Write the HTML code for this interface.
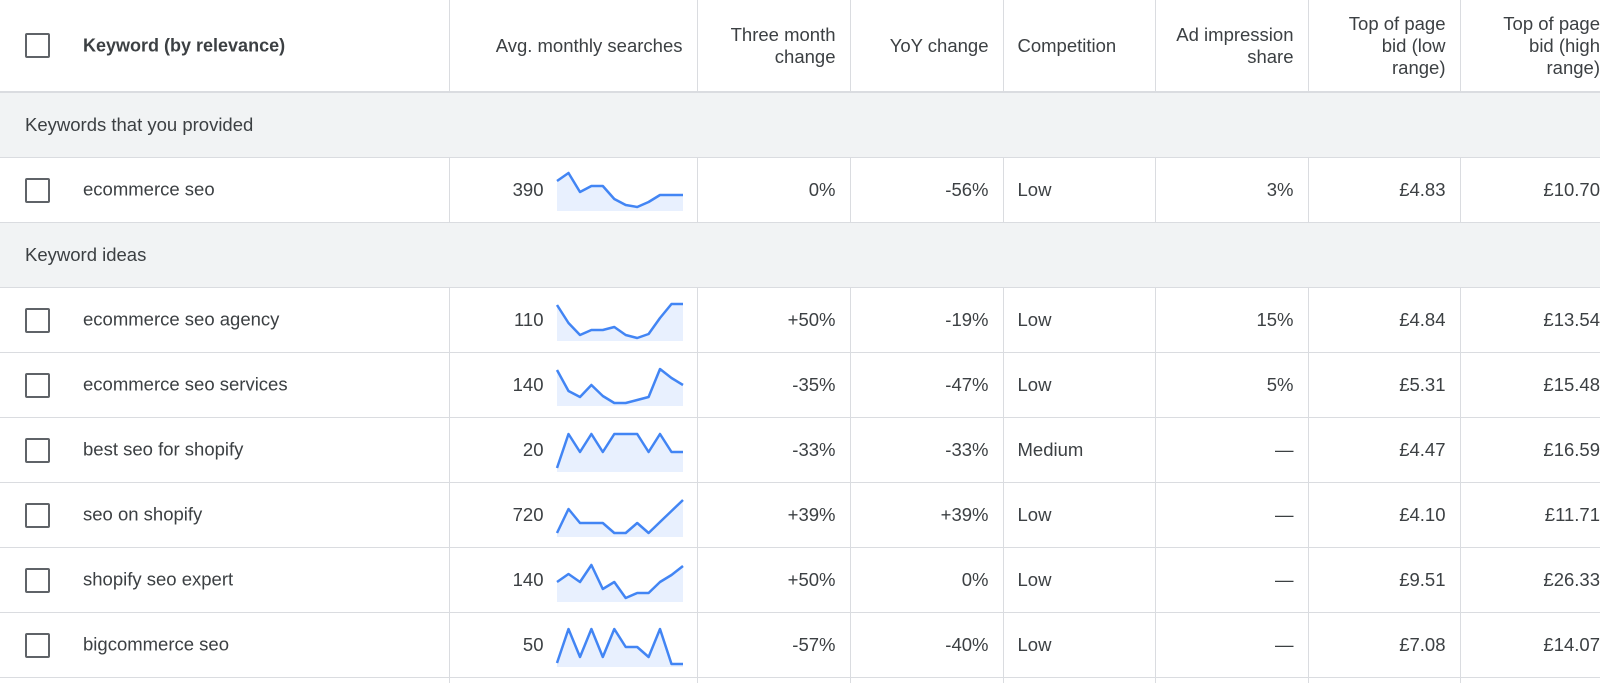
<!DOCTYPE html>
<html><head><meta charset="utf-8"><style>
html,body{margin:0;width:1600px;height:684px;overflow:hidden}
body{background:#fff;font-family:"Liberation Sans",Arial,sans-serif;color:#3c4043}
#w{position:relative;width:1600px;height:684px;overflow:hidden}
table{border-collapse:collapse;table-layout:fixed;width:1600px;position:absolute;left:0;top:0}
td,th{padding:0 14px;font-size:18.5px;font-weight:normal;white-space:nowrap;border-left:1px solid #dadce0;text-align:right;overflow:visible}
th{height:91px;line-height:22px;border-bottom:2px solid #dadce0}
tr.r td{height:64px;border-bottom:1px solid #dadce0}
tr.e td{height:5px;padding:0;border-bottom:none}
tr.g td{height:64px;background:#f1f3f4;border-bottom:1px solid #dadce0;text-align:left;padding-left:25px;border-left:none}
td.k,th.k{text-align:left;border-left:none;padding-left:25px}
.cb{display:inline-block;width:21px;height:21px;border:2px solid #5f6368;border-radius:2px;vertical-align:middle;margin-right:33px}
th.k span{font-weight:bold;font-size:18px;vertical-align:middle}
th.c{text-align:left}
td.c{text-align:left}
td.a{padding-right:153px}
th.l,td.l{padding-right:0}
svg{position:absolute;left:0;top:0}
</style></head><body><div id="w">
<table>
<colgroup><col style="width:449px"><col style="width:248px"><col style="width:153px"><col style="width:153px"><col style="width:152px"><col style="width:153px"><col style="width:152px"><col style="width:140px"></colgroup>
<tr><th class="k"><span class="cb"></span><span>Keyword (by relevance)</span></th><th>Avg. monthly searches</th><th>Three month<br>change</th><th>YoY change</th><th class="c">Competition</th><th>Ad impression<br>share</th><th>Top of page<br>bid (low<br>range)</th><th class="l">Top of page<br>bid (high<br>range)</th></tr>
<tr class="g"><td colspan="8">Keywords that you provided</td></tr>
<tr class="r"><td class="k"><span class="cb"></span>ecommerce seo</td><td class="a">390</td><td>0%</td><td>-56%</td><td class="c">Low</td><td>3%</td><td>£4.83</td><td class="l">£10.70</td></tr>
<tr class="g"><td colspan="8">Keyword ideas</td></tr>
<tr class="r"><td class="k"><span class="cb"></span>ecommerce seo agency</td><td class="a">110</td><td>+50%</td><td>-19%</td><td class="c">Low</td><td>15%</td><td>£4.84</td><td class="l">£13.54</td></tr>
<tr class="r"><td class="k"><span class="cb"></span>ecommerce seo services</td><td class="a">140</td><td>-35%</td><td>-47%</td><td class="c">Low</td><td>5%</td><td>£5.31</td><td class="l">£15.48</td></tr>
<tr class="r"><td class="k"><span class="cb"></span>best seo for shopify</td><td class="a">20</td><td>-33%</td><td>-33%</td><td class="c">Medium</td><td>—</td><td>£4.47</td><td class="l">£16.59</td></tr>
<tr class="r"><td class="k"><span class="cb"></span>seo on shopify</td><td class="a">720</td><td>+39%</td><td>+39%</td><td class="c">Low</td><td>—</td><td>£4.10</td><td class="l">£11.71</td></tr>
<tr class="r"><td class="k"><span class="cb"></span>shopify seo expert</td><td class="a">140</td><td>+50%</td><td>0%</td><td class="c">Low</td><td>—</td><td>£9.51</td><td class="l">£26.33</td></tr>
<tr class="r"><td class="k"><span class="cb"></span>bigcommerce seo</td><td class="a">50</td><td>-57%</td><td>-40%</td><td class="c">Low</td><td>—</td><td>£7.08</td><td class="l">£14.07</td></tr>
<tr class="e"><td class="k"></td><td></td><td></td><td></td><td></td><td></td><td></td><td></td></tr>
</table>
<svg width="1600" height="684" viewBox="0 0 1600 684">
<g fill="#e8f0fe" stroke="none">
<polygon points="557,181 568.5,173 580,192 591.4,186 602.8,186 614.3,199 625.7,205 637.2,207 648.6,202 660,195 671.5,195 683,195 683,211 557,211"/>
<polygon points="557,305 568.5,323 580,335 591.4,330 602.8,330 614.3,327 625.7,335 637.2,338 648.6,334 660,318 671.5,304 683,304 683,341 557,341"/>
<polygon points="557,370 568.5,391 580,397 591.4,385 602.8,396 614.3,403 625.7,403 637.2,400 648.6,397 660,369 671.5,378 683,385 683,406 557,406"/>
<polygon points="557,468 568.5,434 580,452 591.4,434 602.8,452 614.3,434 625.7,434 637.2,434 648.6,452 660,434 671.5,452 683,452 683,472 557,472"/>
<polygon points="557,533 568.5,509 580,523 591.4,523 602.8,523 614.3,533 625.7,533 637.2,523 648.6,533 660,522 671.5,511 683,500 683,537 557,537"/>
<polygon points="557,582 568.5,574 580,582 591.4,565 602.8,589 614.3,582 625.7,598 637.2,593 648.6,593 660,582 671.5,575 683,566 683,602 557,602"/>
<polygon points="557,663 568.5,629 580,657 591.4,629 602.8,657 614.3,629 625.7,647 637.2,647 648.6,657 660,629 671.5,664 683,664 683,667 557,667"/>
</g>
<g fill="none" stroke="#4285f4" stroke-width="2.5" stroke-linejoin="round">
<polyline points="557,181 568.5,173 580,192 591.4,186 602.8,186 614.3,199 625.7,205 637.2,207 648.6,202 660,195 671.5,195 683,195"/>
<polyline points="557,305 568.5,323 580,335 591.4,330 602.8,330 614.3,327 625.7,335 637.2,338 648.6,334 660,318 671.5,304 683,304"/>
<polyline points="557,370 568.5,391 580,397 591.4,385 602.8,396 614.3,403 625.7,403 637.2,400 648.6,397 660,369 671.5,378 683,385"/>
<polyline points="557,468 568.5,434 580,452 591.4,434 602.8,452 614.3,434 625.7,434 637.2,434 648.6,452 660,434 671.5,452 683,452"/>
<polyline points="557,533 568.5,509 580,523 591.4,523 602.8,523 614.3,533 625.7,533 637.2,523 648.6,533 660,522 671.5,511 683,500"/>
<polyline points="557,582 568.5,574 580,582 591.4,565 602.8,589 614.3,582 625.7,598 637.2,593 648.6,593 660,582 671.5,575 683,566"/>
<polyline points="557,663 568.5,629 580,657 591.4,629 602.8,657 614.3,629 625.7,647 637.2,647 648.6,657 660,629 671.5,664 683,664"/>
</g>
</svg>
</div></body></html>
